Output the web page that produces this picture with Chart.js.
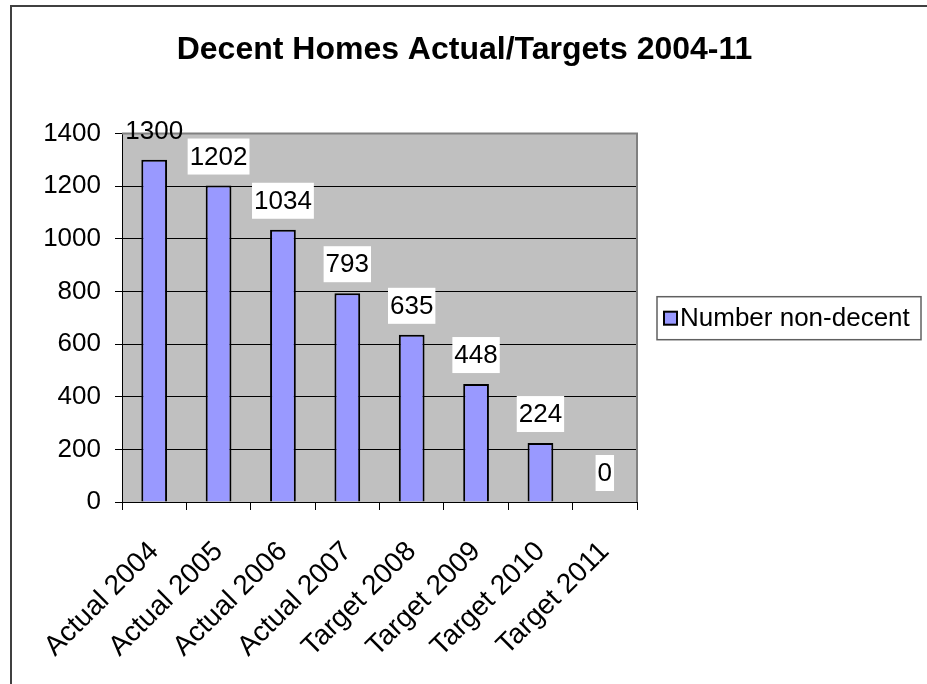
<!DOCTYPE html>
<html>
<head>
<meta charset="utf-8">
<script src="https://cdn.jsdelivr.net/npm/chart.js@4/dist/chart.umd.min.js"></script>
<style>
  html, body { margin: 0; padding: 0; background: #fff; overflow: hidden; }
  #wrap { width: 927px; height: 684px; }
</style>
</head>
<body>
<div id="wrap"><canvas id="myChart" width="927" height="684"></canvas></div>
<script>
const chartTitle = 'Decent Homes Actual/Targets 2004-11';
const seriesLabel = 'Number non-decent';
const categories = ['Actual 2004', 'Actual 2005', 'Actual 2006', 'Actual 2007',
    'Target 2008', 'Target 2009', 'Target 2010', 'Target 2011'];
const nonDecent = [1300, 1202, 1034, 793, 635, 448, 224, 0];
const yTicks = [0, 200, 400, 600, 800, 1000, 1200, 1400];

const FONT = "'Liberation Sans', Arial, sans-serif";
const barColor = '#9999ff';

// plot area grey, outer frame, grey border top/right
const backdrop = {
    id: 'backdrop',
    beforeDraw(chart) {
        const {ctx, chartArea: a} = chart;
        ctx.save();
        ctx.fillStyle = '#fff';
        ctx.fillRect(0, 0, chart.width, chart.height);
        ctx.strokeStyle = '#404040';
        ctx.lineWidth = 2;
        ctx.strokeRect(11, 6, chart.width + 20, chart.height + 20);
        ctx.fillStyle = '#c0c0c0';
        ctx.fillRect(a.left, a.top, a.right - a.left, a.bottom - a.top);
        ctx.restore();
    },
    beforeDatasetsDraw(chart) {
        const {ctx, chartArea: a} = chart;
        ctx.save();
        ctx.strokeStyle = '#808080';
        ctx.lineWidth = 2;
        ctx.beginPath();
        ctx.moveTo(a.left, a.top);
        ctx.lineTo(a.right, a.top);
        ctx.lineTo(a.right, a.bottom);
        ctx.stroke();
        ctx.restore();
    }
};

// value labels with white box, legend with frame
const valueLabels = {
    id: 'valueLabels',
    afterDatasetsDraw(chart) {
        const ctx = chart.ctx;
        const meta = chart.getDatasetMeta(0);
        ctx.save();
        ctx.font = `26px ${FONT}`;
        ctx.textAlign = 'center';
        ctx.textBaseline = 'middle';
        meta.data.forEach((bar, i) => {
            const text = String(nonDecent[i]);
            const w = ctx.measureText(text).width;
            const cy = bar.y - 29;
            if (cy - 18 >= chart.chartArea.top) {
                ctx.fillStyle = '#fff';
                ctx.fillRect(bar.x - w / 2 - 2, cy - 18, w + 4, 36);
            }
            ctx.fillStyle = '#000';
            ctx.fillText(text, bar.x, cy + 1);
        });
        ctx.restore();
    },
    afterDraw(chart) {
        const ctx = chart.ctx;
        const a = chart.chartArea;
        const ds = chart.data.datasets[0];
        const cy = (a.top + a.bottom) / 2;
        const left = a.right + 20;
        ctx.save();
        ctx.fillStyle = '#fff';
        ctx.strokeStyle = '#606060';
        ctx.lineWidth = 1.5;
        ctx.fillRect(left, cy - 21, 264, 43);
        ctx.strokeRect(left, cy - 21, 264, 43);
        ctx.fillStyle = ds.backgroundColor;
        ctx.fillRect(left + 7, cy - 6, 13, 13);
        ctx.strokeStyle = '#000';
        ctx.lineWidth = 2;
        ctx.strokeRect(left + 7, cy - 6, 13, 13);
        ctx.fillStyle = '#000';
        ctx.font = `26px ${FONT}`;
        ctx.textBaseline = 'middle';
        ctx.fillText(ds.label, left + 23, cy + 1);
        ctx.restore();
    }
};

const chartData = {
    labels: categories,
    datasets: [{
        label: seriesLabel,
        data: nonDecent,
        backgroundColor: barColor,
        borderColor: '#000',
        borderWidth: 2,
        barPercentage: 0.4,
        categoryPercentage: 1
    }]
};

const config = {
    type: 'bar',
    data: chartData,
    options: {
        responsive: false,
        animation: false,
        layout: {
            padding: {left: 12, right: 10, top: 0, bottom: 0}
        },
        plugins: {
            legend: {display: false},
            tooltip: {enabled: false},
            title: {
                display: true,
                align: 'center',
                text: chartTitle,
                color: '#000',
                font: {family: FONT, size: 32, weight: 'bold', lineHeight: 1.2},
                padding: {top: 31, bottom: 64}
            }
        },
        scales: {
            x: {
                grid: {
                    display: true,
                    drawOnChartArea: false,
                    offset: true,
                    tickLength: 8,
                    color: '#000',
                    tickColor: '#000'
                },
                border: {color: '#000', width: 1},
                ticks: {
                    color: '#000',
                    autoSkip: false,
                    maxRotation: 45,
                    minRotation: 45,
                    padding: 35,
                    font: {family: FONT, size: 28, lineHeight: 0.2}
                },
                afterFit(scale) {
                    scale.height = 182;
                }
            },
            y: {
                min: 0,
                max: 1400,
                afterBuildTicks(scale) {
                    scale.ticks = yTicks.map(v => ({value: v}));
                },
                grid: {
                    color: '#000',
                    tickColor: '#000',
                    tickLength: 7
                },
                border: {color: '#000', width: 1},
                ticks: {
                    color: '#000',
                    padding: 14,
                    font: {family: FONT, size: 26},
                    callback: v => String(v)
                },
                afterFit(scale) {
                    scale.width = 110;
                }
            },
            // empty right-hand space that holds the legend
            legendSpace: {
                type: 'linear',
                position: 'right',
                display: true,
                grid: {display: false},
                border: {display: false},
                ticks: {display: false},
                afterFit(scale) {
                    scale.width = 280;
                }
            }
        }
    },
    plugins: [backdrop, valueLabels]
};

const ctx = document.getElementById('myChart').getContext('2d');
if (ctx) {
    new Chart(ctx, config);
}
</script>
</body>
</html>
